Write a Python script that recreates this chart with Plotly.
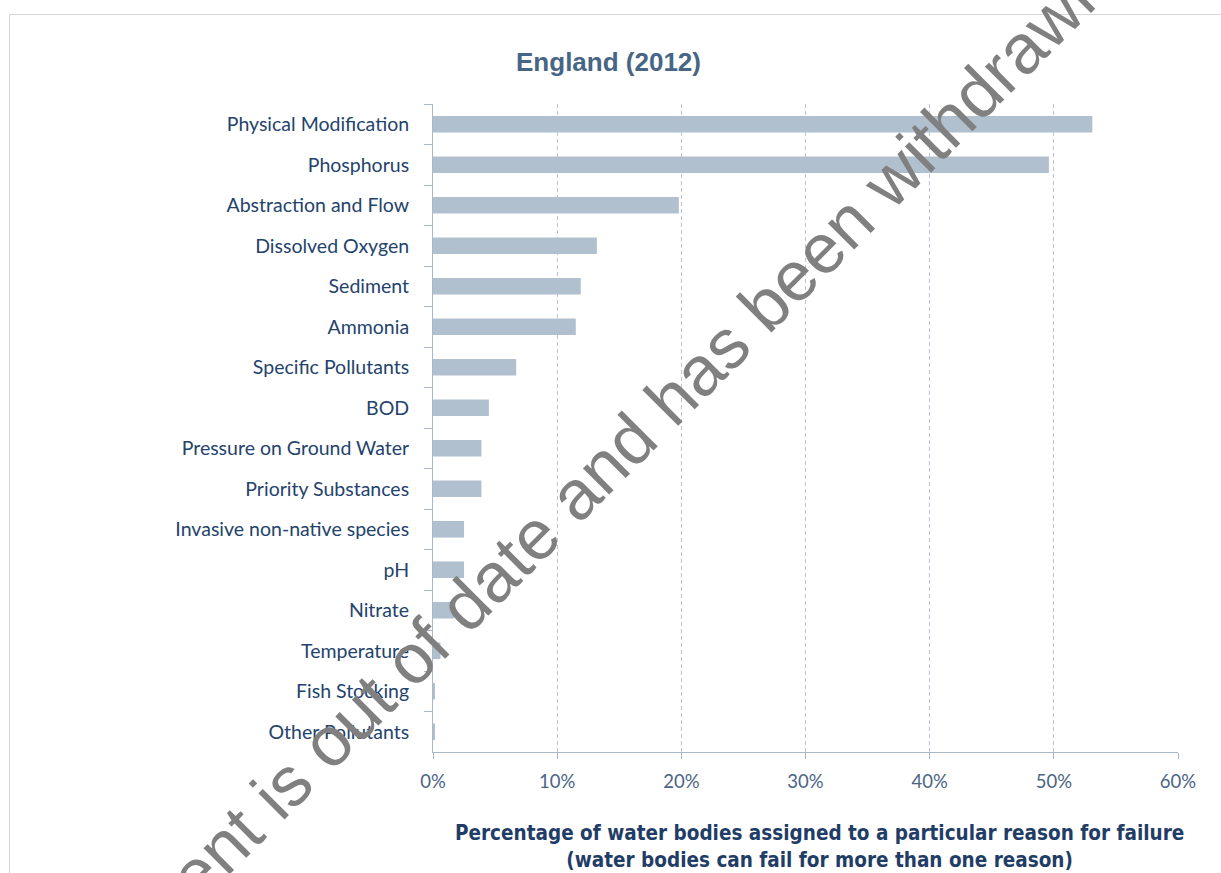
import plotly.graph_objects as go

# Reasons for failure, top to bottom
reasons = [
    "Physical Modification", "Phosphorus", "Abstraction and Flow",
    "Dissolved Oxygen", "Sediment", "Ammonia", "Specific Pollutants",
    "BOD", "Pressure on Ground Water", "Priority Substances",
    "Invasive non-native species", "pH", "Nitrate", "Temperature",
    "Fish Stocking", "Other Pollutants",
]
# Percentage of water bodies assigned to each reason
percent_failing = [
    53.1, 49.6, 19.8, 13.2, 11.9, 11.5, 6.7, 4.5,
    3.9, 3.9, 2.5, 2.5, 1.7, 0.6, 0.1, 0.1,
]
x_ticks = [0, 10, 20, 30, 40, 50, 60]
x_tick_labels = ["0%", "10%", "20%", "30%", "40%", "50%", "60%"]

W, H = 1221, 873
L, R, T, B = 433, 43, 104, 121
PW, PH = W - L - R, H - T - B


def px_x(px):
    return (px - L) / PW


def px_y(py):
    return (H - B - py) / PH


LABEL_FONT = "Lato, Carlito, Calibri, sans-serif"
AXIS_COLOR = "#A9B7C7"
GRID_COLOR = "#B9C5D3"

fig = go.Figure(
    go.Bar(
        x=percent_failing,
        y=reasons,
        orientation="h",
        marker=dict(color="#B1C0CE", line=dict(width=0)),
        hoverinfo="x+y",
    )
)

fig.update_layout(
    width=W,
    height=H,
    margin=dict(l=L, r=R, t=T, b=B, pad=0),
    paper_bgcolor="white",
    plot_bgcolor="white",
    bargap=0.59,
    showlegend=False,
    title=dict(
        text="<b>England (2012)</b>",
        font=dict(family="Liberation Sans, Arial, sans-serif", size=26, color="#476585"),
        xref="paper", x=px_x(608.5), xanchor="center",
        yref="container", y=1 - 62 / H, yanchor="middle",
    ),
    xaxis=dict(
        range=[0, 60],
        tickvals=x_ticks,
        ticktext=x_tick_labels,
        showgrid=True,
        gridcolor=GRID_COLOR,
        griddash="4px,3px",
        gridwidth=1,
        zeroline=False,
        showline=True,
        linecolor=AXIS_COLOR,
        linewidth=1,
        ticks="outside",
        ticklen=6,
        tickcolor=AXIS_COLOR,
        tickfont=dict(family=LABEL_FONT, size=18.5, color="#4A6584"),
        ticklabelstandoff=7,
        fixedrange=True,
    ),
    yaxis=dict(
        categoryorder="array",
        categoryarray=reasons,
        autorange="reversed",
        showgrid=False,
        zeroline=False,
        showline=True,
        linecolor=AXIS_COLOR,
        linewidth=1,
        ticks="outside",
        tickson="boundaries",
        ticklen=8,
        tickcolor=AXIS_COLOR,
        tickfont=dict(family=LABEL_FONT, size=19.5, color="#24436C"),
        ticklabelstandoff=19,
        fixedrange=True,
    ),
)

# Outer chart frame
fig.add_shape(
    type="rect", xref="paper", yref="paper",
    x0=px_x(9.5), x1=px_x(1240), y0=px_y(14.5), y1=px_y(900),
    line=dict(color="#D3D6DE", width=1), fillcolor="rgba(0,0,0,0)", layer="below",
)

# Two-line axis caption
fig.add_annotation(
    text="<b>Percentage of water bodies assigned to a particular reason for failure<br>"
         "(water bodies can fail for more than one reason)</b>",
    xref="paper", yref="paper", x=px_x(819), y=px_y(846),
    xanchor="center", yanchor="middle", showarrow=False,
    font=dict(family="Liberation Sans Narrow, DejaVu Sans Condensed, Liberation Sans, Arial", size=20.5, color="#1F3D66"),
    align="center",
)

# Withdrawn-document stamp
fig.add_annotation(
    text="This document is out of date and has been withdrawn",
    xref="paper", yref="paper", x=px_x(512), y=px_y(558),
    xanchor="center", yanchor="middle", showarrow=False,
    textangle=-45,
    font=dict(family="Liberation Sans, Arial, sans-serif", size=70, color="#808080"),
)

fig.write_html("out.html")
